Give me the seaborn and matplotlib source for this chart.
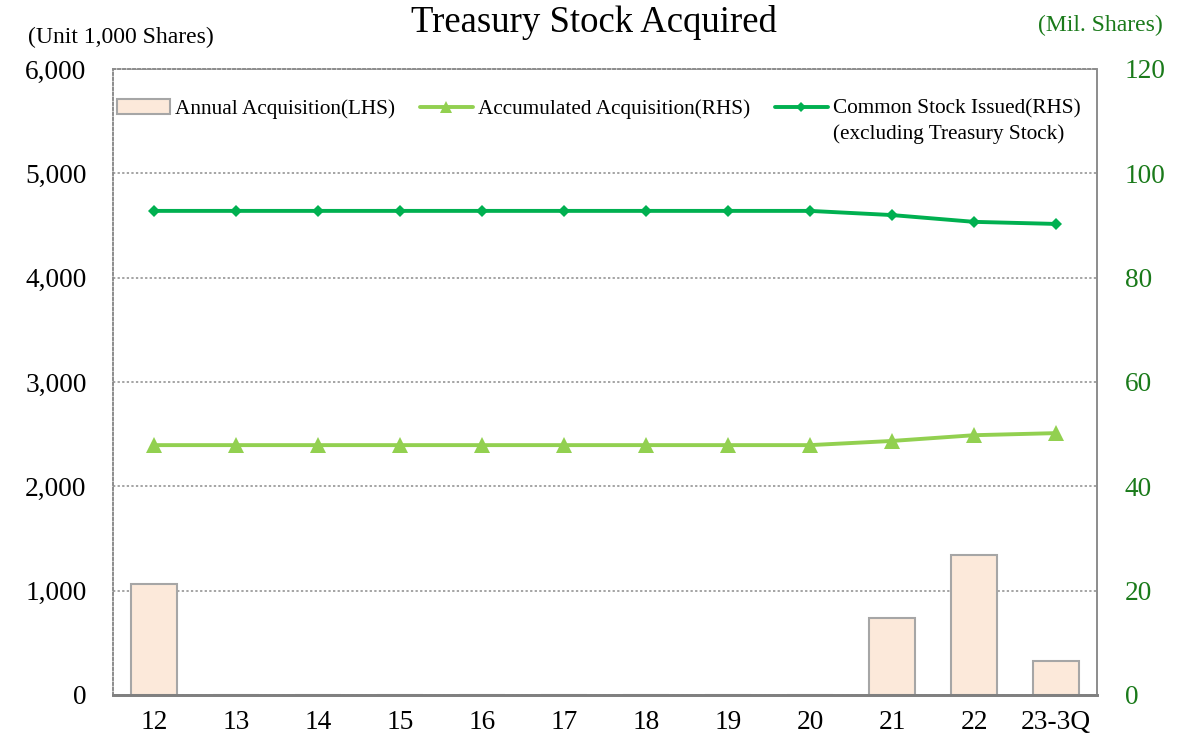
import matplotlib
matplotlib.use("Agg")
import matplotlib.pyplot as plt
import seaborn as sns
import pandas as pd
from matplotlib.patches import Patch
from matplotlib.lines import Line2D

categories = ["12", "13", "14", "15", "16", "17", "18", "19", "20", "21", "22", "23-3Q"]
annual_acq = [1064, 0, 0, 0, 0, 0, 0, 0, 0, 738, 1342, 326]          # 1,000 shares (LHS)
accum_acq = [47.9, 47.9, 47.9, 47.9, 47.9, 47.9, 47.9, 47.9, 47.9, 48.7, 49.8, 50.2]  # mil. shares (RHS)
common_issued = [92.8, 92.8, 92.8, 92.8, 92.8, 92.8, 92.8, 92.8, 92.8, 92.0, 90.7, 90.3]  # mil. shares (RHS)
left_ticks = [0, 1000, 2000, 3000, 4000, 5000, 6000]
right_ticks = [0, 20, 40, 60, 80, 100, 120]

sns.set_theme(style="white")
plt.rcParams["font.family"] = ["Liberation Serif", "DejaVu Serif"]
plt.rcParams["text.color"] = "black"

BAR_FACE = "#FCE9DA"
BAR_EDGE = "#A6A6A6"
LIGHT_G = "#92D050"
DARK_G = "#00B050"
RIGHT_TXT = "#1A7A1A"

df = pd.DataFrame({"cat": categories, "annual": annual_acq,
                   "accum": accum_acq, "common": common_issued})

fig = plt.figure(figsize=(11.87, 7.44), dpi=100)
ax = fig.add_axes([113/1187, 1-695/744, (1097-113)/1187, (695-69)/744])

sns.barplot(data=df, x="cat", y="annual", ax=ax, color=BAR_FACE,
            edgecolor=BAR_EDGE, linewidth=1.5, width=0.57, saturation=1)
ax.set_ylim(0, 6000)
ax.set_yticks(left_ticks)
ax.set_yticklabels([f"{v:,}" for v in left_ticks])
ax.yaxis.grid(True, linestyle=(0, (1.5, 1.5)), color="#8C8C8C", linewidth=1.1)
ax.set_axisbelow(True)
ax.set_xlabel("")
ax.set_ylabel("")
ax.tick_params(axis="both", labelsize=19.7, length=0, colors="black")
ax.tick_params(axis="x", pad=11)
ax.tick_params(axis="y", pad=19)

ax2 = ax.twinx()
x_pos = list(range(len(categories)))
sns.lineplot(x=x_pos, y=accum_acq, ax=ax2, color=LIGHT_G, linewidth=2.8,
             marker="^", markersize=11, markeredgewidth=0, markerfacecolor=LIGHT_G)
sns.lineplot(x=x_pos, y=common_issued, ax=ax2, color=DARK_G, linewidth=2.8,
             marker="D", markersize=6.5, markeredgewidth=0, markerfacecolor=DARK_G)
ax2.set_ylim(0, 120)
ax2.set_yticks(right_ticks)
ax2.set_yticklabels([str(v) for v in right_ticks])
ax2.tick_params(axis="y", labelsize=19.7, length=0, colors=RIGHT_TXT, pad=20)
ax2.grid(False)
ax.set_xlim(-0.5, len(categories) - 0.5)

for a in (ax, ax2):
    for s in a.spines.values():
        s.set_color("#8C8C8C")
        s.set_linewidth(1.2)
    a.spines["left"].set_linestyle((0, (1.5, 1.5)))
    a.spines["top"].set_linestyle((0, (1.5, 1.5)))
    a.spines["bottom"].set_color("#808080")
    a.spines["bottom"].set_linewidth(2)

handles = [
    Patch(facecolor=BAR_FACE, edgecolor=BAR_EDGE, linewidth=1.5),
    Line2D([0], [0], color=LIGHT_G, linewidth=2.8, marker="^", markersize=9, markeredgewidth=0),
    Line2D([0], [0], color=DARK_G, linewidth=2.8, marker="D", markersize=5.5, markeredgewidth=0),
]
labels = ["Annual Acquisition(LHS)", "Accumulated Acquisition(RHS)",
          "Common Stock Issued(RHS)"]
leg = ax2.legend(handles, labels, loc="center left",
                 bbox_to_anchor=(117/1187, 1-109/744), bbox_transform=fig.transFigure,
                 ncol=3, frameon=False, fontsize=15.3, handlelength=2.5,
                 handletextpad=0.25, columnspacing=1.15, borderpad=0, borderaxespad=0,
                 labelcolor="black")

fig.canvas.draw()
t3 = leg.get_texts()[2]
bb = t3.get_window_extent()
x0_fig = bb.x0 / fig.bbox.width
fig.text(x0_fig, 1-134/744, "(excluding Treasury Stock)", ha="left", va="center",
         fontsize=15.3, color="black")

fig.text(0.5, 1-23/744, "Treasury Stock Acquired", ha="center", va="center",
         fontsize=26.5, color="black")
fig.text(28/1187, 1-37/744, "(Unit 1,000 Shares)", ha="left", va="center",
         fontsize=17, color="black")
fig.text(1163/1187, 1-25/744, "(Mil. Shares)", ha="right", va="center",
         fontsize=17, color=RIGHT_TXT)

fig.savefig("out.png", dpi=100)
